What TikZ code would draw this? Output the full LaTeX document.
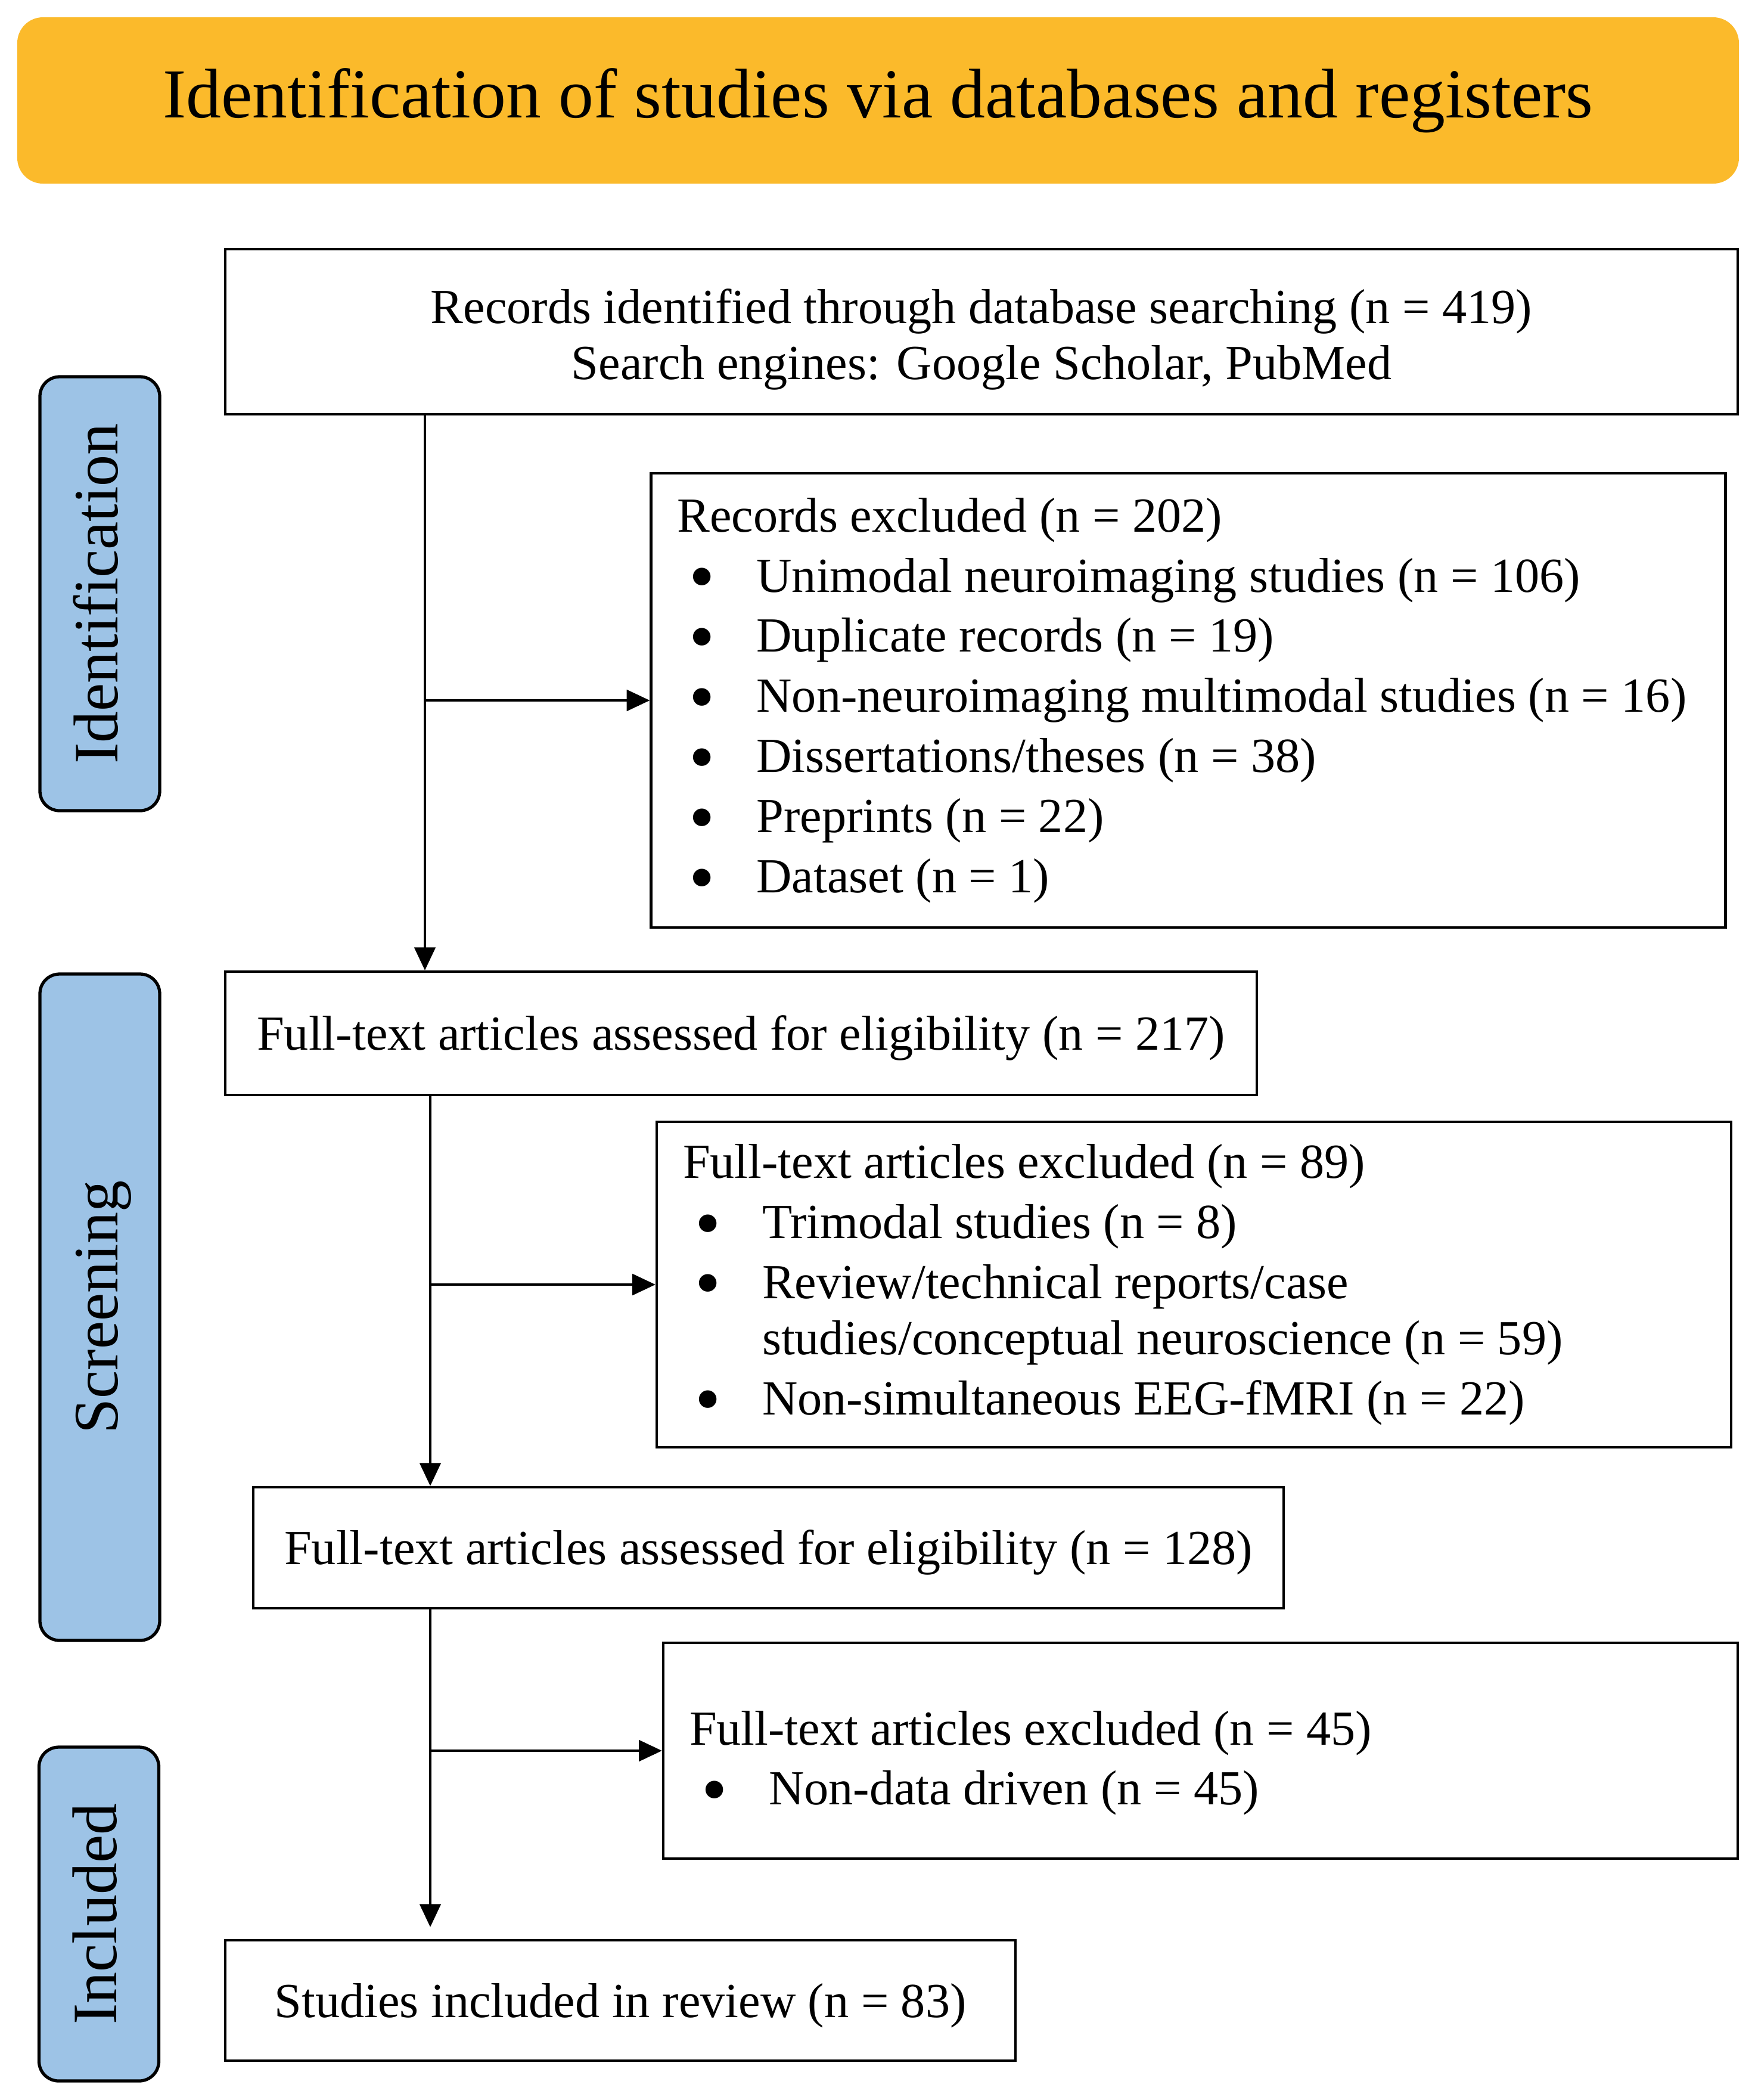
\documentclass[tikz,border=0pt]{standalone}
\usepackage{fontspec}
\setmainfont{Liberation Serif}
\usetikzlibrary{arrows.meta}
\definecolor{titleorange}{RGB}{251,186,43}
\definecolor{stageblue}{RGB}{157,195,230}
\newcommand{\bodysize}{\fontsize{23.4pt}{26.7pt}\selectfont}
\newcommand{\bulletitem}[1]{\makebox[1.33cm][l]{\hspace{0.2cm}\raisebox{-0.19em}{\scalebox{1.5}{\textbullet}}}#1}

\begin{document}
\begin{tikzpicture}[x=1cm,y=-1cm,
    box/.style={draw, line width=1.2pt, inner sep=0pt, font=\bodysize},
    onebox/.style={box, text height=21pt, text depth=5pt},
    exbox/.style={box, align=flush left, inner xsep=0.44cm, text width=17.15cm},
    stage/.style={draw, line width=1.5pt, fill=stageblue, rounded corners=0.33cm,
        rotate=90, minimum height=2.01cm, inner sep=0pt,
        font=\fontsize{30.2pt}{36pt}\selectfont, text height=17pt, text depth=0pt},
    flow/.style={line width=1.3pt, -{Triangle[length=11pt,width=10pt]}}]
    \useasboundingbox (0,0) rectangle (29.45,35.23);

    % banner
    \node [fill=titleorange, rounded corners=0.43cm, minimum width=28.89cm, minimum height=2.79cm,
        font=\fontsize{33.5pt}{40pt}\selectfont] (title) at (14.735,1.685)
        {Identification of studies via databases and registers};

    % stages on the left
    \node [stage, minimum width=7.28cm] (identification) at (1.675,9.96) {Identification};
    \node [stage, minimum width=11.18cm] (screening) at (1.675,21.93) {Screening};
    \node [stage, minimum width=5.6cm] (included) at (1.66,32.11) {Included};

    % main column
    \node [box, align=center, minimum width=25.38cm, minimum height=2.77cm] (records) at (16.47,5.565)
        {\rule{0pt}{24pt}Records identified through database searching (n = 419)\\
        Search engines: Google Scholar, PubMed};
    \node [onebox, minimum width=17.31cm, minimum height=2.07cm] (assessedA) at (12.435,17.335)
        {Full-text articles assessed for eligibility (n = 217)};
    \node [onebox, minimum width=17.29cm, minimum height=2.03cm] (assessedB) at (12.895,25.965)
        {Full-text articles assessed for eligibility (n = 128)};
    \node [onebox, minimum width=13.26cm, minimum height=2.02cm] (studies) at (10.41,33.56)
        {Studies included in review (n = 83)};

    % exclusions on the right
    \node [exbox, minimum width=18.02cm, minimum height=7.62cm] (excludedA) at (19.94,11.75)
        {Records excluded (n = 202)\\[2pt]
        \bulletitem{Unimodal neuroimaging studies (n = 106)}\\[2pt]
        \bulletitem{Duplicate records (n = 19)}\\[2pt]
        \bulletitem{Non-neuroimaging multimodal studies (n = 16)}\\[2pt]
        \bulletitem{Dissertations/theses (n = 38)}\\[2pt]
        \bulletitem{Preprints (n = 22)}\\[2pt]
        \bulletitem{Dataset (n = 1)}};
    \node [exbox, minimum width=18.03cm, minimum height=5.46cm] (excludedB) at (20.035,21.55)
        {Full-text articles excluded (n = 89)\\[2pt]
        \bulletitem{Trimodal studies (n = 8)}\\[2pt]
        \bulletitem{Review/technical reports/case}\\
        \hspace*{1.33cm}studies/conceptual neuroscience (n = 59)\\[2pt]
        \bulletitem{Non-simultaneous EEG-fMRI (n = 22)}};
    \node [exbox, minimum width=18.03cm, minimum height=3.62cm] (excludedC) at (20.145,29.37)
        {\rule{0pt}{28pt}Full-text articles excluded (n = 45)\\[2pt]
        \bulletitem{Non-data driven (n = 45)}};

    % connectors
    \coordinate (trunkA) at (7.13,0);
    \coordinate (trunkB) at (7.22,0);
    \draw [flow] (trunkA |- records.south) -- (trunkA |- assessedA.north);
    \draw [flow] (trunkA |- excludedA.west) -- (excludedA.west);

    \draw [flow] (trunkB |- assessedA.south) -- (trunkB |- assessedB.north);
    \draw [flow] (trunkB |- excludedB.west) -- (excludedB.west);

    \draw [flow, shorten >=0.2cm] (trunkB |- assessedB.south) -- (trunkB |- studies.north);
    \draw [flow] (trunkB |- excludedC.west) -- (excludedC.west);
\end{tikzpicture}
\end{document}
